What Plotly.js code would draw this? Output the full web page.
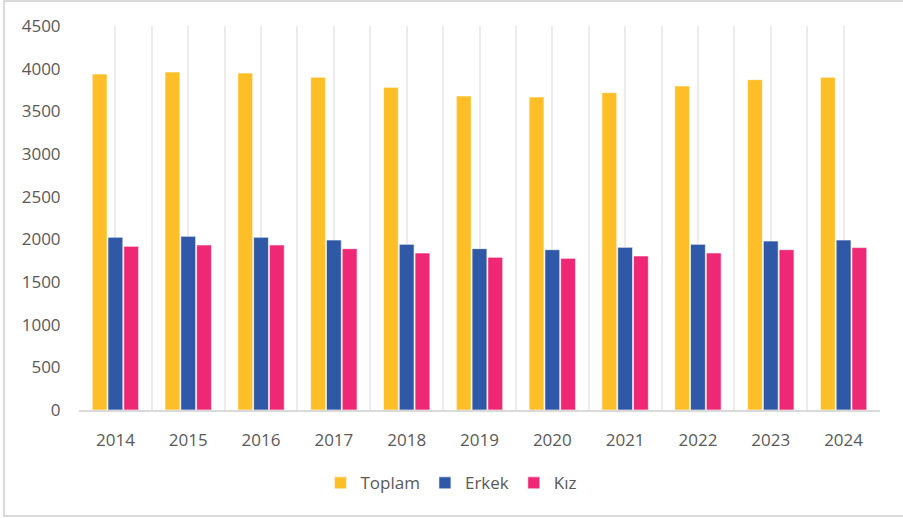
<!DOCTYPE html>
<html>
<head>
<meta charset="utf-8">
<script src="https://cdn.plot.ly/plotly-3.0.1.min.js"></script>
<style>
html,body{margin:0;padding:0;background:#fff;}
#wrap{position:relative;width:903px;height:518px;overflow:hidden;}
#frame{position:absolute;left:3px;top:0px;width:905px;height:517px;border:2px solid #d9d9d9;box-sizing:border-box;pointer-events:none;}
#chart{position:absolute;left:0;top:0;width:903px;height:518px;}
</style>
</head>
<body>
<div id="wrap">
<div id="chart"></div>
<div id="frame"></div>
</div>
<script>
const years = ['2014','2015','2016','2017','2018','2019','2020','2021','2022','2023','2024'];
const toplam = [3937, 3961, 3949, 3899, 3781, 3680, 3668, 3719, 3797, 3871, 3899];
const erkek  = [2024, 2035, 2024, 1992, 1941, 1891, 1879, 1906, 1941, 1980, 1992];
const kiz    = [1918, 1934, 1934, 1891, 1840, 1789, 1777, 1805, 1840, 1879, 1903];
const seriesNames = ['Toplam', 'Erkek', 'Kız'];
const colors = ['#FDBE27', '#2F58A6', '#EE2874'];
const yTicks = [0, 500, 1000, 1500, 2000, 2500, 3000, 3500, 4000, 4500];

const xIdx = years.map((_, i) => i);
const font = {family: 'Open Sans, sans-serif', size: 17, color: '#595959'};

const traces = [toplam, erkek, kiz].map((vals, k) => ({
  type: 'bar',
  name: seriesNames[k],
  x: xIdx,
  y: vals,
  marker: {color: colors[k], line: {color: 'rgba(255,255,255,0.6)', width: 1}},
  hoverinfo: 'x+y+name'
}));

const layout = {
  width: 903,
  height: 518,
  margin: {l: 79, r: 23, t: 26, b: 108, autoexpand: false},
  paper_bgcolor: 'rgba(0,0,0,0)',
  plot_bgcolor: '#fff',
  barmode: 'group',
  bargap: 0.35,
  bargroupgap: 0.06,
  font: font,
  showlegend: true,
  legend: {
    orientation: 'h',
    x: 0.465, xanchor: 'center',
    yref: 'container',
    y: 0.067, yanchor: 'middle',
    font: font,
    itemclick: false
  },
  xaxis: {
    type: 'linear',
    range: [-0.5, years.length - 0.5],
    tickmode: 'array',
    tickvals: xIdx,
    ticktext: years,
    showgrid: true,
    gridcolor: '#ececec',
    gridwidth: 2,
    minor: {dtick: 0.5, tick0: -0.5, showgrid: true, gridcolor: '#ececec', gridwidth: 2},
    ticks: 'outside',
    ticklen: 14,
    tickcolor: 'rgba(0,0,0,0)',
    showline: true,
    linecolor: '#d9d9d9',
    linewidth: 2,
    zeroline: false,
    tickfont: font,
    automargin: false,
    fixedrange: true
  },
  yaxis: {
    range: [0, 4500],
    tickmode: 'array',
    tickvals: yTicks,
    ticktext: yTicks.map(String),
    showgrid: false,
    zeroline: false,
    showline: false,
    ticks: 'outside',
    ticklen: 14,
    tickcolor: 'rgba(0,0,0,0)',
    tickfont: font,
    automargin: false,
    fixedrange: true
  }
};

Plotly.newPlot('chart', traces, layout, {displayModeBar: false, staticPlot: true});
</script>
</body>
</html>
